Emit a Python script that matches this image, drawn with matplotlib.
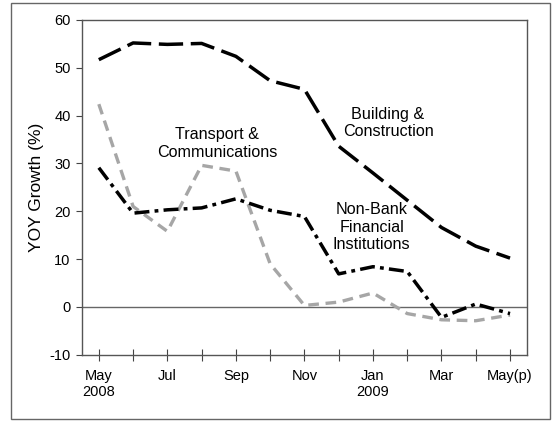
import matplotlib.pyplot as plt
from matplotlib.patches import Rectangle

plt.rcParams['font.family'] = ['Liberation Sans', 'DejaVu Sans']
plt.rcParams['axes.unicode_minus'] = False

# Monthly YOY growth (%), May 2008 .. May 2009 (p)
months = ['May\n2008', '', 'Jul', '', 'Sep', '', 'Nov', '', 'Jan\n2009', '', 'Mar', '', 'May(p)']
building = [51.7, 55.2, 54.9, 55.1, 52.4, 47.3, 45.5, 33.6, 28.0, 22.3, 16.6, 12.7, 10.2]
nbfi = [29.1, 19.6, 20.3, 20.7, 22.6, 20.2, 18.9, 6.9, 8.4, 7.4, -2.2, 0.6, -1.4]
transport = [42.4, 21.0, 15.8, 29.6, 28.4, 9.0, 0.3, 1.0, 2.9, -1.4, -2.7, -2.9, -1.7]

x = list(range(len(months)))

fig = plt.figure(figsize=(5.52, 4.21), dpi=100)
ax = fig.add_axes([0.148, 0.1575, 0.807, 0.795])

# outer frame round the whole chart
fig.patches.append(Rectangle((11 / 552, 2 / 421), 539 / 552, 416 / 421,
                             transform=fig.transFigure, fill=False,
                             edgecolor='#666666', linewidth=1))

ax.axhline(0, color='#666666', linewidth=1, zorder=1)

ax.plot(x, transport, color='#a6a6a6', linewidth=2.4, dashes=(3.2, 2.0), zorder=2)
ax.plot(x, nbfi, color='black', linewidth=2.5, dashes=(4.3, 1.5, 1.1, 1.5), zorder=3)
ax.plot(x, building, color='black', linewidth=2.5, dashes=(7, 2.2), zorder=3)

ax.text(3.46, 34.2, 'Transport &\nCommunications', ha='center', va='center', fontsize=11.6)
ax.text(8.44, 38.4, 'Building &\nConstruction', ha='center', va='center', fontsize=11.6)
ax.text(7.96, 16.7, 'Non-Bank\nFinancial\nInstitutions', ha='center', va='center', fontsize=11.6)

ax.set_xlim(-0.5, 12.5)
ax.set_ylim(-10, 60)
ax.set_yticks(range(-10, 61, 10))
ax.set_xticks(x)
ax.set_xticklabels(months, fontsize=10.5)
ax.tick_params(axis='x', direction='inout', length=8, pad=6, color='#444444')
ax.tick_params(axis='y', direction='out', length=4, pad=4, labelsize=10.5, color='#444444')

for s in ax.spines.values():
    s.set_color('#555555')
    s.set_linewidth(1)

ax.set_ylabel('YOY Growth (%)', fontsize=12.5)
ax.yaxis.set_label_coords(-0.085, 0.5)

fig.savefig('out.png', dpi=100)
